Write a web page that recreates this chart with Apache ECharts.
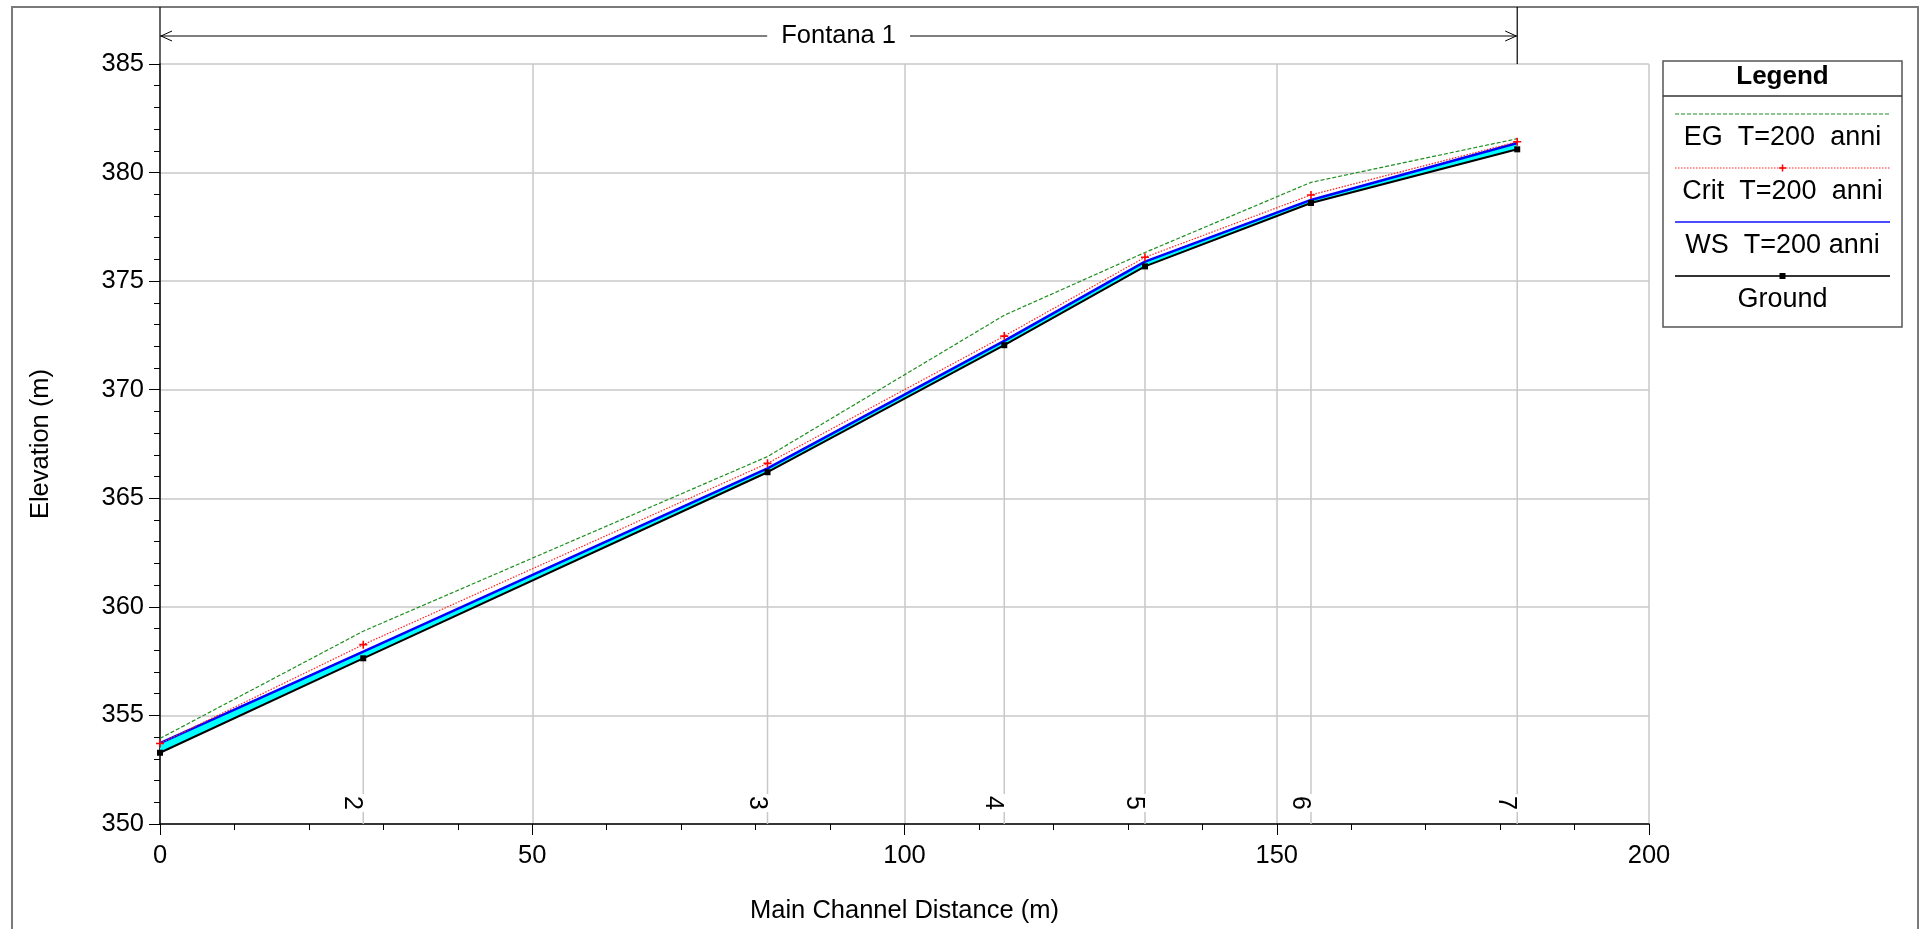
<!DOCTYPE html>
<html><head><meta charset="utf-8">
<script src="https://cdn.jsdelivr.net/npm/echarts@6/dist/echarts.min.js"></script>
<style>html,body{margin:0;padding:0;background:#fff}#c{width:1923px;height:929px}</style>
</head><body><div id="c"></div>
<script>
// ---- data ----
const reachTitle = 'Fontana 1';
const stations = [0, 27.3, 81.6, 113.4, 132.3, 154.6, 182.3];
const stationLabels = ['', '2', '3', '4', '5', '6', '7'];
const ground = [353.28, 357.63, 366.20, 372.05, 375.68, 378.60, 381.07];
const ws     = [353.72, 357.94, 366.38, 372.25, 375.90, 378.74, 381.36];
const crit   = [353.71, 358.26, 366.61, 372.47, 376.10, 378.97, 381.42];
const eg     = [353.94, 358.88, 366.92, 373.43, 376.32, 379.55, 381.56];
const seriesNames = ['EG  T=200  anni', 'Crit  T=200  anni', 'WS  T=200 anni', 'Ground'];
const xAxisName = 'Main Channel Distance (m)';
const yAxisName = 'Elevation (m)';
const legendTitle = 'Legend';
const xRange = {min: 0, max: 200, interval: 50};
const yRange = {min: 350, max: 385, interval: 5};

// ---- styles ----
const FONT = '"Liberation Sans", Arial, sans-serif';
const egStyle = {color: '#1f8f1f', width: 1.2, type: [4, 2]};
const critStyle = {color: '#ff2020', width: 1.2, type: [1.5, 1.5]};
const wsStyle = {color: '#0000ff', width: 2.5, type: 'solid'};
const groundStyle = {color: '#000000', width: 2, type: 'solid'};
const PLUS = 'path://M4,0H6V4H10V6H6V10H4V6H0V4H4Z';
const zip = (xs, ys) => xs.map((x, i) => [x, ys[i]]);

const axisCommon = {
  type: 'value',
  axisLine: {show: true, lineStyle: {color: '#000', width: 1.5}},
  axisTick: {show: true, length: 11, lineStyle: {color: '#000', width: 1}},
  minorTick: {show: true, splitNumber: 5, length: 6, lineStyle: {color: '#000', width: 1}},
  splitLine: {show: true, lineStyle: {color: '#c8c8c8', width: 1.5}},
  axisLabel: {color: '#000', fontSize: 25.5, fontFamily: FONT},
  nameLocation: 'middle',
  nameTextStyle: {color: '#000', fontSize: 25.5, fontFamily: FONT}
};

const option = {
  animation: false,
  backgroundColor: '#fff',
  textStyle: {fontFamily: FONT},
  grid: {left: 160, right: 274, top: 64, bottom: 104, containLabel: false},
  xAxis: Object.assign({}, axisCommon, {
    min: xRange.min, max: xRange.max, interval: xRange.interval,
    name: xAxisName, nameGap: 74,
    axisLabel: Object.assign({}, axisCommon.axisLabel, {margin: 19})
  }),
  yAxis: Object.assign({}, axisCommon, {
    min: yRange.min, max: yRange.max, interval: yRange.interval,
    name: yAxisName, nameGap: 106,
    axisLabel: Object.assign({}, axisCommon.axisLabel, {margin: 16})
  }),
  series: [
    { // station verticals and labels
      type: 'custom', z: 1, silent: true,
      data: stations.map((x, i) => [x, ground[i], i]),
      renderItem: function (params, api) {
        const i = api.value(2);
        if (!stationLabels[i]) return null;
        const top = api.coord([api.value(0), api.value(1)]);
        const bot = api.coord([api.value(0), yRange.min]);
        return {
          type: 'group',
          children: [
            {type: 'line', shape: {x1: top[0], y1: top[1], x2: bot[0], y2: bot[1]},
             style: {stroke: '#c8c8c8', lineWidth: 1.5}},
            {type: 'text', x: bot[0] - 11, y: bot[1] - 21, rotation: -Math.PI / 2,
             style: {text: stationLabels[i], font: '25px ' + FONT, fill: '#000',
                     align: 'center', verticalAlign: 'middle',
                     backgroundColor: '#fff', padding: [0, 2]}}
          ]
        };
      }
    },
    { // water fill between ground and WS
      type: 'custom', z: 2, silent: true,
      data: [[0]],
      renderItem: function (params, api) {
        const upper = stations.map((x, i) => api.coord([x, ws[i]]));
        const lower = stations.map((x, i) => api.coord([x, ground[i]])).reverse();
        return {type: 'polygon', shape: {points: upper.concat(lower)},
                style: {fill: '#00ffff'}};
      }
    },
    {name: seriesNames[3], type: 'line', z: 5, data: zip(stations, ground),
     lineStyle: groundStyle, symbol: 'rect', symbolSize: 6,
     itemStyle: {color: '#000'}},
    {name: seriesNames[2], type: 'line', z: 4, data: zip(stations, ws),
     lineStyle: wsStyle, symbol: 'none'},
    {name: seriesNames[1], type: 'line', z: 6, data: zip(stations, crit),
     lineStyle: critStyle, symbol: PLUS, symbolSize: 8,
     itemStyle: {color: '#ff0000'}},
    {name: seriesNames[0], type: 'line', z: 3, data: zip(stations, eg),
     lineStyle: egStyle, symbol: 'none'}
  ]
};

const chart = echarts.init(document.getElementById('c'), null, {renderer: 'canvas'});
chart.setOption(option);

const xL = chart.convertToPixel({xAxisIndex: 0}, stations[0]);
const xR = chart.convertToPixel({xAxisIndex: 0}, stations[stations.length - 1]);
const yTop = chart.convertToPixel({yAxisIndex: 0}, yRange.max);
const arrowY = 36;

const graphics = [
  {type: 'rect', shape: {x: 12, y: 7, width: 1906, height: 960},
   style: {fill: 'none', stroke: '#7a7a7a', lineWidth: 2}, silent: true},
  {type: 'line', shape: {x1: xL, y1: 7, x2: xL, y2: yTop}, style: {stroke: '#000', lineWidth: 1.2}},
  {type: 'line', shape: {x1: xR, y1: 7, x2: xR, y2: yTop}, style: {stroke: '#000', lineWidth: 1.2}},
  {type: 'line', shape: {x1: xL, y1: arrowY, x2: xR, y2: arrowY}, style: {stroke: '#000', lineWidth: 1.2}},
  {type: 'polyline', shape: {points: [[xL + 12, arrowY - 5], [xL + 1, arrowY], [xL + 12, arrowY + 5]]},
   style: {stroke: '#000', lineWidth: 1, fill: 'none'}},
  {type: 'polyline', shape: {points: [[xR - 12, arrowY - 5], [xR - 1, arrowY], [xR - 12, arrowY + 5]]},
   style: {stroke: '#000', lineWidth: 1, fill: 'none'}},
  {type: 'text', x: (xL + xR) / 2, y: arrowY, z: 10,
   style: {text: reachTitle, font: '25.5px ' + FONT, fill: '#000', align: 'center',
           verticalAlign: 'middle', backgroundColor: '#fff', padding: [2, 14]}}
];

// legend box
const LX = 1663, LY = 61, LW = 239, LH = 266;
const lcx = LX + LW / 2;
graphics.push(
  {type: 'rect', shape: {x: LX, y: LY, width: LW, height: LH},
   style: {fill: '#fff', stroke: '#555', lineWidth: 1.5}},
  {type: 'text', x: lcx, y: LY + 16,
   style: {text: legendTitle, font: 'bold 26px ' + FONT, fill: '#000', align: 'center', verticalAlign: 'middle'}},
  {type: 'line', shape: {x1: LX, y1: LY + 35, x2: LX + LW, y2: LY + 35}, style: {stroke: '#333', lineWidth: 1.5}}
);
const legendStyles = [egStyle, critStyle, wsStyle, groundStyle];
seriesNames.forEach((nm, i) => {
  const ly = LY + 53 + i * 54;
  const st = legendStyles[i];
  const dash = Array.isArray(st.type) ? st.type : null;
  graphics.push({type: 'line', shape: {x1: LX + 12, y1: ly, x2: LX + LW - 12, y2: ly},
    style: {stroke: i === 2 ? '#4a4aff' : (i === 3 ? '#333' : st.color), lineWidth: i >= 2 ? 2 : 1.2, lineDash: dash}});
  if (i === 1) {
    graphics.push({type: 'line', shape: {x1: lcx - 3.5, y1: ly, x2: lcx + 3.5, y2: ly}, style: {stroke: '#f00', lineWidth: 1.5}});
    graphics.push({type: 'line', shape: {x1: lcx, y1: ly - 3.5, x2: lcx, y2: ly + 3.5}, style: {stroke: '#f00', lineWidth: 1.5}});
  }
  if (i === 3) {
    graphics.push({type: 'rect', shape: {x: lcx - 3, y: ly - 3, width: 6, height: 6}, style: {fill: '#000'}});
  }
  graphics.push({type: 'text', x: lcx, y: ly + 24,
    style: {text: nm, font: '27px ' + FONT, fill: '#000', align: 'center', verticalAlign: 'middle'}});
});

chart.setOption({graphic: {elements: graphics}});
</script>
</body></html>
